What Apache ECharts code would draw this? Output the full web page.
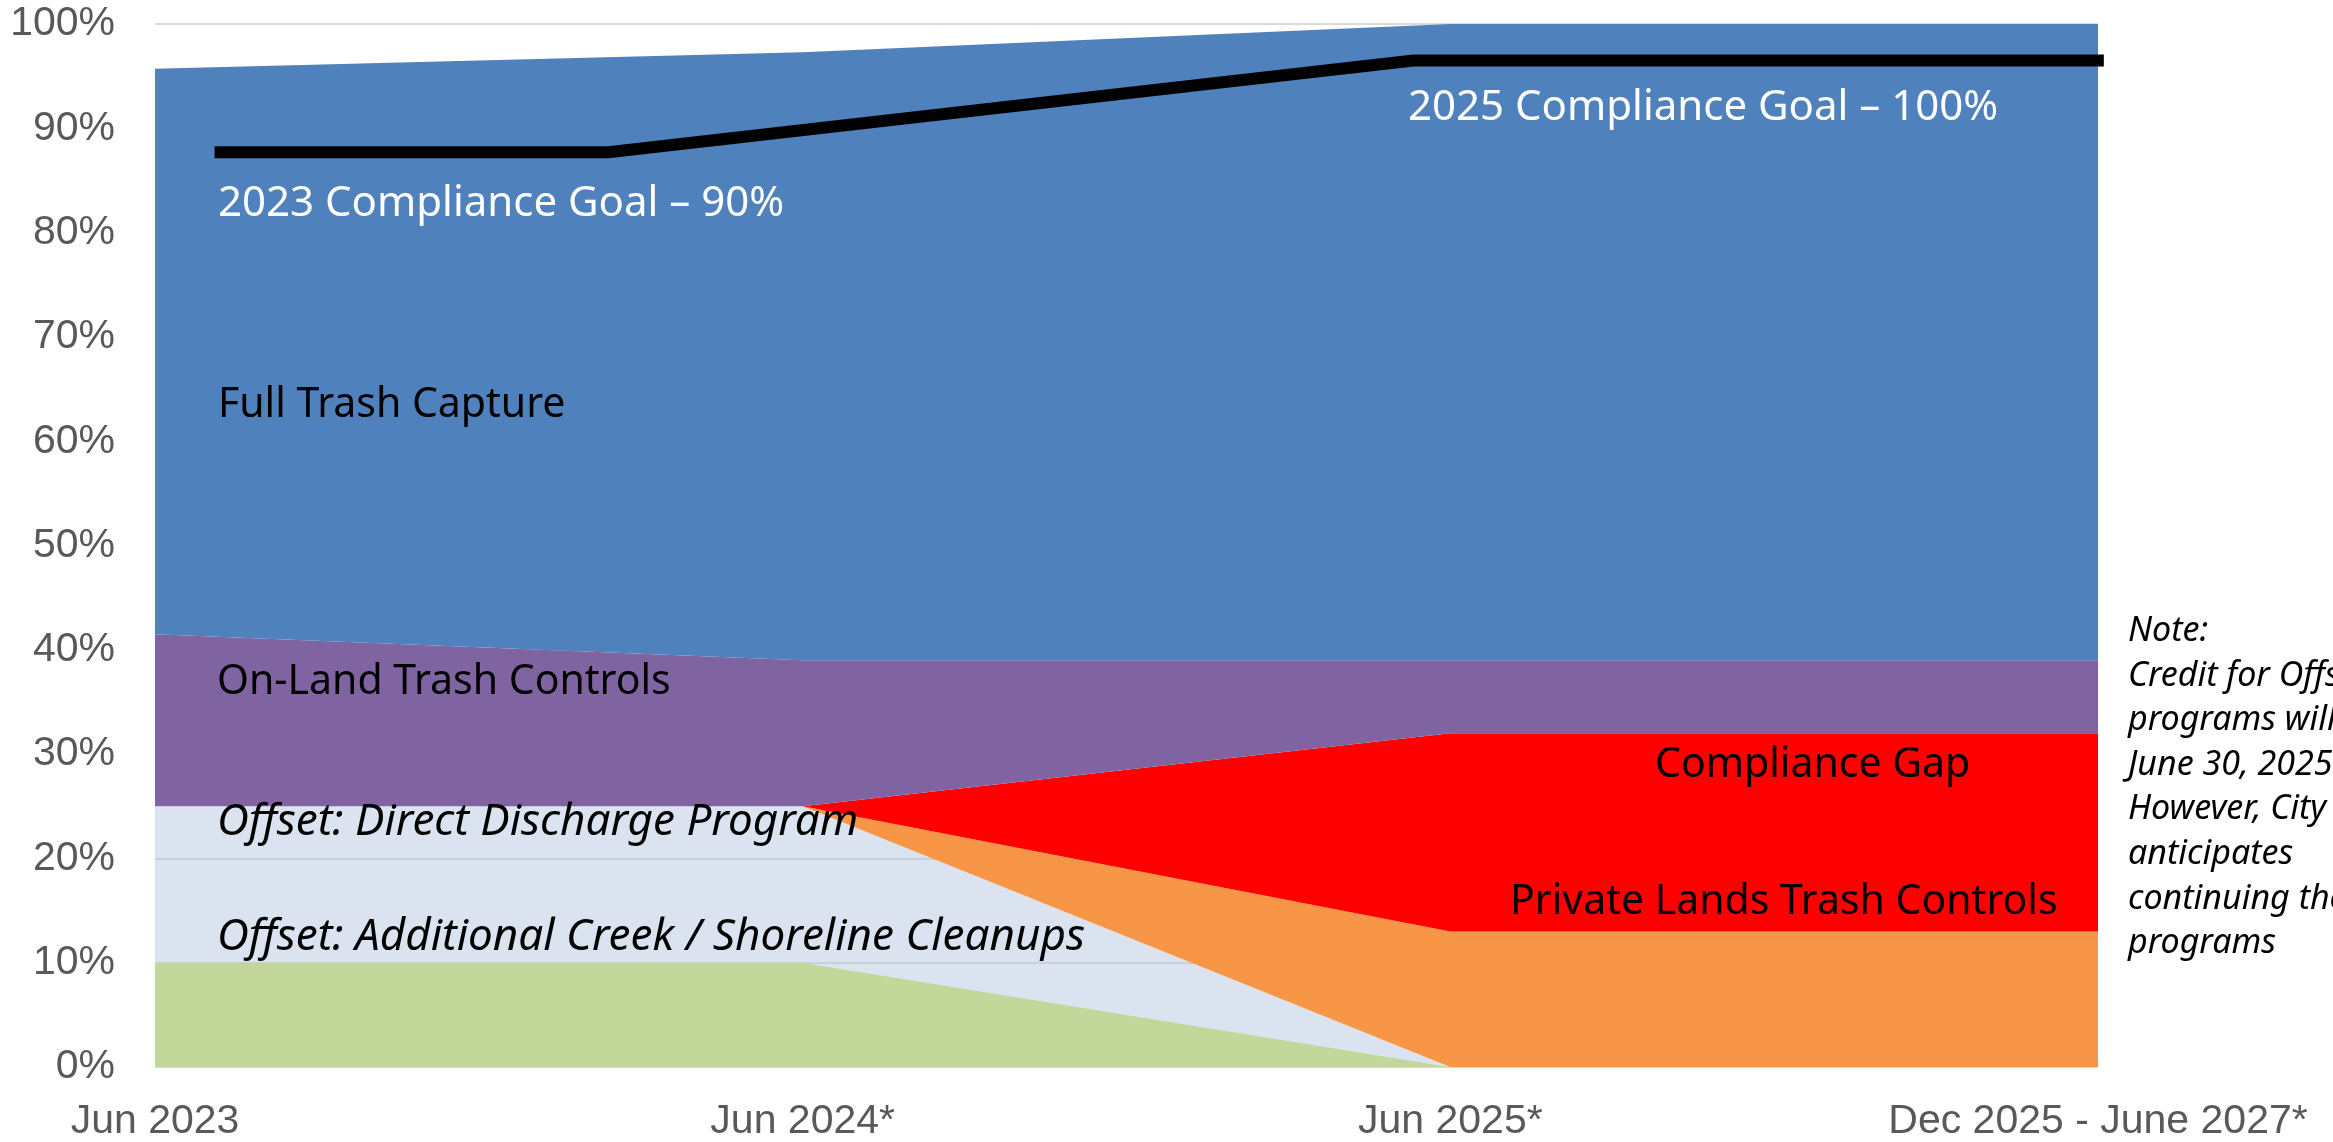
<!DOCTYPE html>
<html>
<head>
<meta charset="utf-8">
<script src="https://cdn.jsdelivr.net/npm/echarts@6/dist/echarts.min.js"></script>
<style>
html,body{margin:0;padding:0;background:#fff;}
#chart{width:2333px;height:1142px;}
</style>
</head>
<body>
<div id="chart"></div>
<script>
// ---- data ----
var categories = ['Jun 2023', 'Jun 2024*', 'Jun 2025*', 'Dec 2025 - June 2027*'];
var creekCleanups   = [10, 10, 0, 0];      // Offset: Additional Creek / Shoreline Cleanups
var directDischarge = [15, 15, 0, 0];      // Offset: Direct Discharge Program
var privateLands    = [0, 0, 13, 13];      // Private Lands Trash Controls
var complianceGap   = [0, 0, 19, 19];      // Compliance Gap
var onLand          = [16.5, 14, 7, 7];    // On-Land Trash Controls
var fullTrash       = [54.2, 58.3, 61, 61];// Full Trash Capture
var goalX = [0.092, 0.70, 1.943, 3.009];   // position along the period axis
var goalY = [87.7, 87.7, 96.5, 96.5];      // compliance goal line
var yTicks = [0, 10, 20, 30, 40, 50, 60, 70, 80, 90, 100];

var chart = echarts.init(document.getElementById('chart'));
var axisFont = {fontFamily: 'Liberation Sans', fontSize: 41, color: '#595959'};
var labelFont = 'Noto Sans';

function area(name, data, color, opacity) {
  return {
    name: name, type: 'line', stack: 'total', data: data,
    symbol: 'none', smooth: false,
    lineStyle: {width: 0},
    areaStyle: {color: color, opacity: opacity == null ? 1 : opacity},
    emphasis: {disabled: true},
    z: 2
  };
}

var goalData = goalX.map(function (x, i) { return [x, goalY[i]]; });

var option = {
  animation: false,
  backgroundColor: '#ffffff',
  grid: {left: 155, right: 235, top: 24, bottom: 74, containLabel: false},
  xAxis: [{
    type: 'category', data: categories, boundaryGap: false,
    axisLine: {show: false}, axisTick: {show: false},
    axisLabel: Object.assign({margin: 34, interval: 0}, axisFont),
    splitLine: {show: false}
  }, {
    type: 'value', min: 0, max: 3, show: false
  }],
  yAxis: {
    type: 'value', min: yTicks[0], max: yTicks[yTicks.length - 1], interval: 10,
    axisLine: {show: false}, axisTick: {show: false},
    axisLabel: Object.assign({margin: 40, formatter: '{value}%'}, axisFont),
    splitLine: {show: true, lineStyle: {color: '#d9d9d9', width: 2}}
  },
  series: [
    area('Offset: Additional Creek / Shoreline Cleanups', creekCleanups, '#c4d79b'),
    area('Offset: Direct Discharge Program', directDischarge, 'rgb(181,199,223)', 0.5),
    area('Private Lands Trash Controls', privateLands, '#f79646'),
    area('Compliance Gap', complianceGap, '#ff0000'),
    area('On-Land Trash Controls', onLand, '#8064a2'),
    area('Full Trash Capture', fullTrash, '#4f81bd'),
    {
      name: 'Compliance Goal', type: 'line', xAxisIndex: 1, data: goalData,
      symbol: 'none', clip: false,
      lineStyle: {color: '#000000', width: 12, cap: 'butt', join: 'miter'},
      z: 5
    }
  ],
  graphic: [
    {type: 'text', left: 218, top: 212 - 29, z: 10, style: {text: '2023 Compliance Goal \u2013 90%', font: '42px "' + labelFont + '"', fill: '#ffffff'}},
    {type: 'text', left: 1408, top: 116 - 29, z: 10, style: {text: '2025 Compliance Goal \u2013 100%', font: '42px "' + labelFont + '"', fill: '#ffffff'}},
    {type: 'text', left: 218, top: 413 - 28, z: 10, style: {text: 'Full Trash Capture', font: '41px "' + labelFont + '"', fill: '#000000'}},
    {type: 'text', left: 217, top: 690 - 28, z: 10, style: {text: 'On-Land Trash Controls', font: '41px "' + labelFont + '"', fill: '#000000'}},
    {type: 'text', left: 217, top: 830 - 30, z: 10, style: {text: 'Offset: Direct Discharge Program', font: 'italic 44px "' + labelFont + '"', fill: '#000000'}},
    {type: 'text', left: 217, top: 945 - 30, z: 10, style: {text: 'Offset: Additional Creek / Shoreline Cleanups', font: 'italic 44px "' + labelFont + '"', fill: '#000000'}},
    {type: 'text', left: 1655, top: 773 - 28, z: 10, style: {text: 'Compliance Gap', font: '41px "' + labelFont + '"', fill: '#000000'}},
    {type: 'text', left: 1510, top: 910 - 28, z: 10, style: {text: 'Private Lands Trash Controls', font: '41px "' + labelFont + '"', fill: '#000000'}},
    {type: 'text', left: 2128, top: 631 - 22, z: 10, style: {
      text: 'Note:\nCredit for Offset\nprograms will end\nJune 30, 2025.\nHowever, City\nanticipates\ncontinuing these\nprograms',
      font: 'italic 34px "' + labelFont + '"', lineHeight: 44.6, fill: '#000000'}}
  ]
};
chart.setOption(option);
</script>
</body>
</html>
